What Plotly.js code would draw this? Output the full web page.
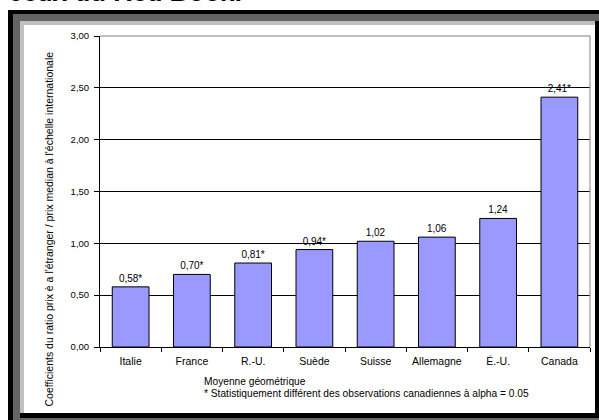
<!DOCTYPE html>
<html>
<head>
<meta charset="utf-8">
<script src="https://cdn.plot.ly/plotly-3.0.1.min.js"></script>
<style>
  html, body { margin: 0; padding: 0; background: #ffffff; }
  #wrap { position: relative; width: 599px; height: 420px; overflow: hidden; background: #ffffff; }
  .f { position: absolute; }
  #chart { position: absolute; left: 0; top: 0; width: 599px; height: 420px; }
</style>
</head>
<body>
<div id="wrap">
  <div class="f" style="left:8px;top:10px;width:591px;height:410px;background:#000000;"></div>
  <div class="f" style="left:13px;top:14px;width:586px;height:406px;background:#646464;"></div>
  <div class="f" style="left:20px;top:21px;width:579px;height:397px;background:#000000;"></div>
  <div class="f" style="left:20px;top:21px;width:575px;height:392px;background:#c0c0c0;"></div>
  <div class="f" style="left:24px;top:25px;width:571px;height:388px;background:#ffffff;"></div>
  <div id="chart"></div>
</div>
<script>
// ---- data ----
const countries = ["Italie", "France", "R.-U.", "Suède", "Suisse", "Allemagne", "É.-U.", "Canada"];
const ratios = [0.58, 0.70, 0.81, 0.94, 1.02, 1.06, 1.24, 2.41];
const significant = [true, true, true, true, false, false, false, true];
const yTickValues = [0, 0.5, 1, 1.5, 2, 2.5, 3];
const chartTitle = "ceux du Red Book.";
const yTitle = "Coefficients du ratio prix è a l'étranger / prix median à l'échelle internationale";
const note1 = "Moyenne géométrique";
const note2 = "* Statistiquement différent des observations canadiennes à alpha = 0.05";

const barLabels = ratios.map((v, i) => v.toFixed(2).replace(".", ",") + (significant[i] ? "*" : ""));
const yTickText = yTickValues.map(v => v.toFixed(2).replace(".", ","));

const FONT = "Arial, 'Liberation Sans', sans-serif";

const trace = {
  type: "bar",
  x: countries,
  y: ratios,
  text: barLabels,
  textposition: "outside",
  textfont: { family: FONT, size: 10, color: "#000000" },
  constraintext: "none",
  cliponaxis: false,
  marker: { color: "#9999ff", line: { color: "#000000", width: 1 } },
  hoverinfo: "x+y"
};

const layout = {
  width: 599,
  height: 420,
  margin: { l: 100, r: 9, t: 36, b: 73, pad: 0 },
  paper_bgcolor: "rgba(0,0,0,0)",
  plot_bgcolor: "rgba(0,0,0,0)",
  showlegend: false,
  bargap: 0.4,
  font: { family: FONT, color: "#000000" },
  title: {
    text: "<b><i>" + chartTitle + "</i></b>",
    font: { family: FONT, size: 26, color: "#000000" },
    x: 9 / 599, xanchor: "left", xref: "container",
    y: 1, yanchor: "top", yref: "container",
    pad: { t: -17 }
  },
  xaxis: {
    type: "category",
    showline: true, linecolor: "#000000", linewidth: 1,
    ticks: "outside", tickson: "boundaries", ticklen: 4, tickcolor: "#000000", tickwidth: 1,
    ticklabelstandoff: 4,
    tickfont: { family: FONT, size: 10.5, color: "#000000" },
    showgrid: false, zeroline: false, fixedrange: true
  },
  yaxis: {
    range: [0, 3],
    tickvals: yTickValues,
    ticktext: yTickText,
    showline: true, linecolor: "#000000", linewidth: 1,
    ticks: "outside", ticklen: 5, tickcolor: "#000000", tickwidth: 1,
    ticklabelstandoff: 3,
    tickfont: { family: FONT, size: 9.5, color: "#000000" },
    showgrid: true, gridcolor: "#000000", gridwidth: 1,
    zeroline: false, fixedrange: true
  },
  shapes: [
    { type: "line", xref: "paper", yref: "paper", x0: 0, x1: 1, y0: 1, y1: 1,
      line: { color: "#808080", width: 1 }, layer: "above" },
    { type: "line", xref: "paper", yref: "paper", x0: 1, x1: 1, y0: 0, y1: 1,
      line: { color: "#808080", width: 1 }, layer: "above" }
  ],
  annotations: [
    { text: yTitle, textangle: -90, showarrow: false,
      xref: "paper", yref: "paper", x: (48 - 100) / 490, y: (347 - 229.5) / 311,
      xanchor: "center", yanchor: "middle",
      font: { family: FONT, size: 10.5, color: "#000000" } },
    { text: note1, showarrow: false,
      xref: "paper", yref: "paper", x: (202 - 100) / 490, y: (347 - 381.5) / 311,
      xanchor: "left", yanchor: "middle",
      font: { family: FONT, size: 10.2, color: "#000000" } },
    { text: note2, showarrow: false,
      xref: "paper", yref: "paper", x: (202 - 100) / 490, y: (347 - 393) / 311,
      xanchor: "left", yanchor: "middle",
      font: { family: FONT, size: 10.2, color: "#000000" } }
  ]
};

Plotly.newPlot("chart", [trace], layout, { displayModeBar: false, staticPlot: true });
</script>
</body>
</html>
